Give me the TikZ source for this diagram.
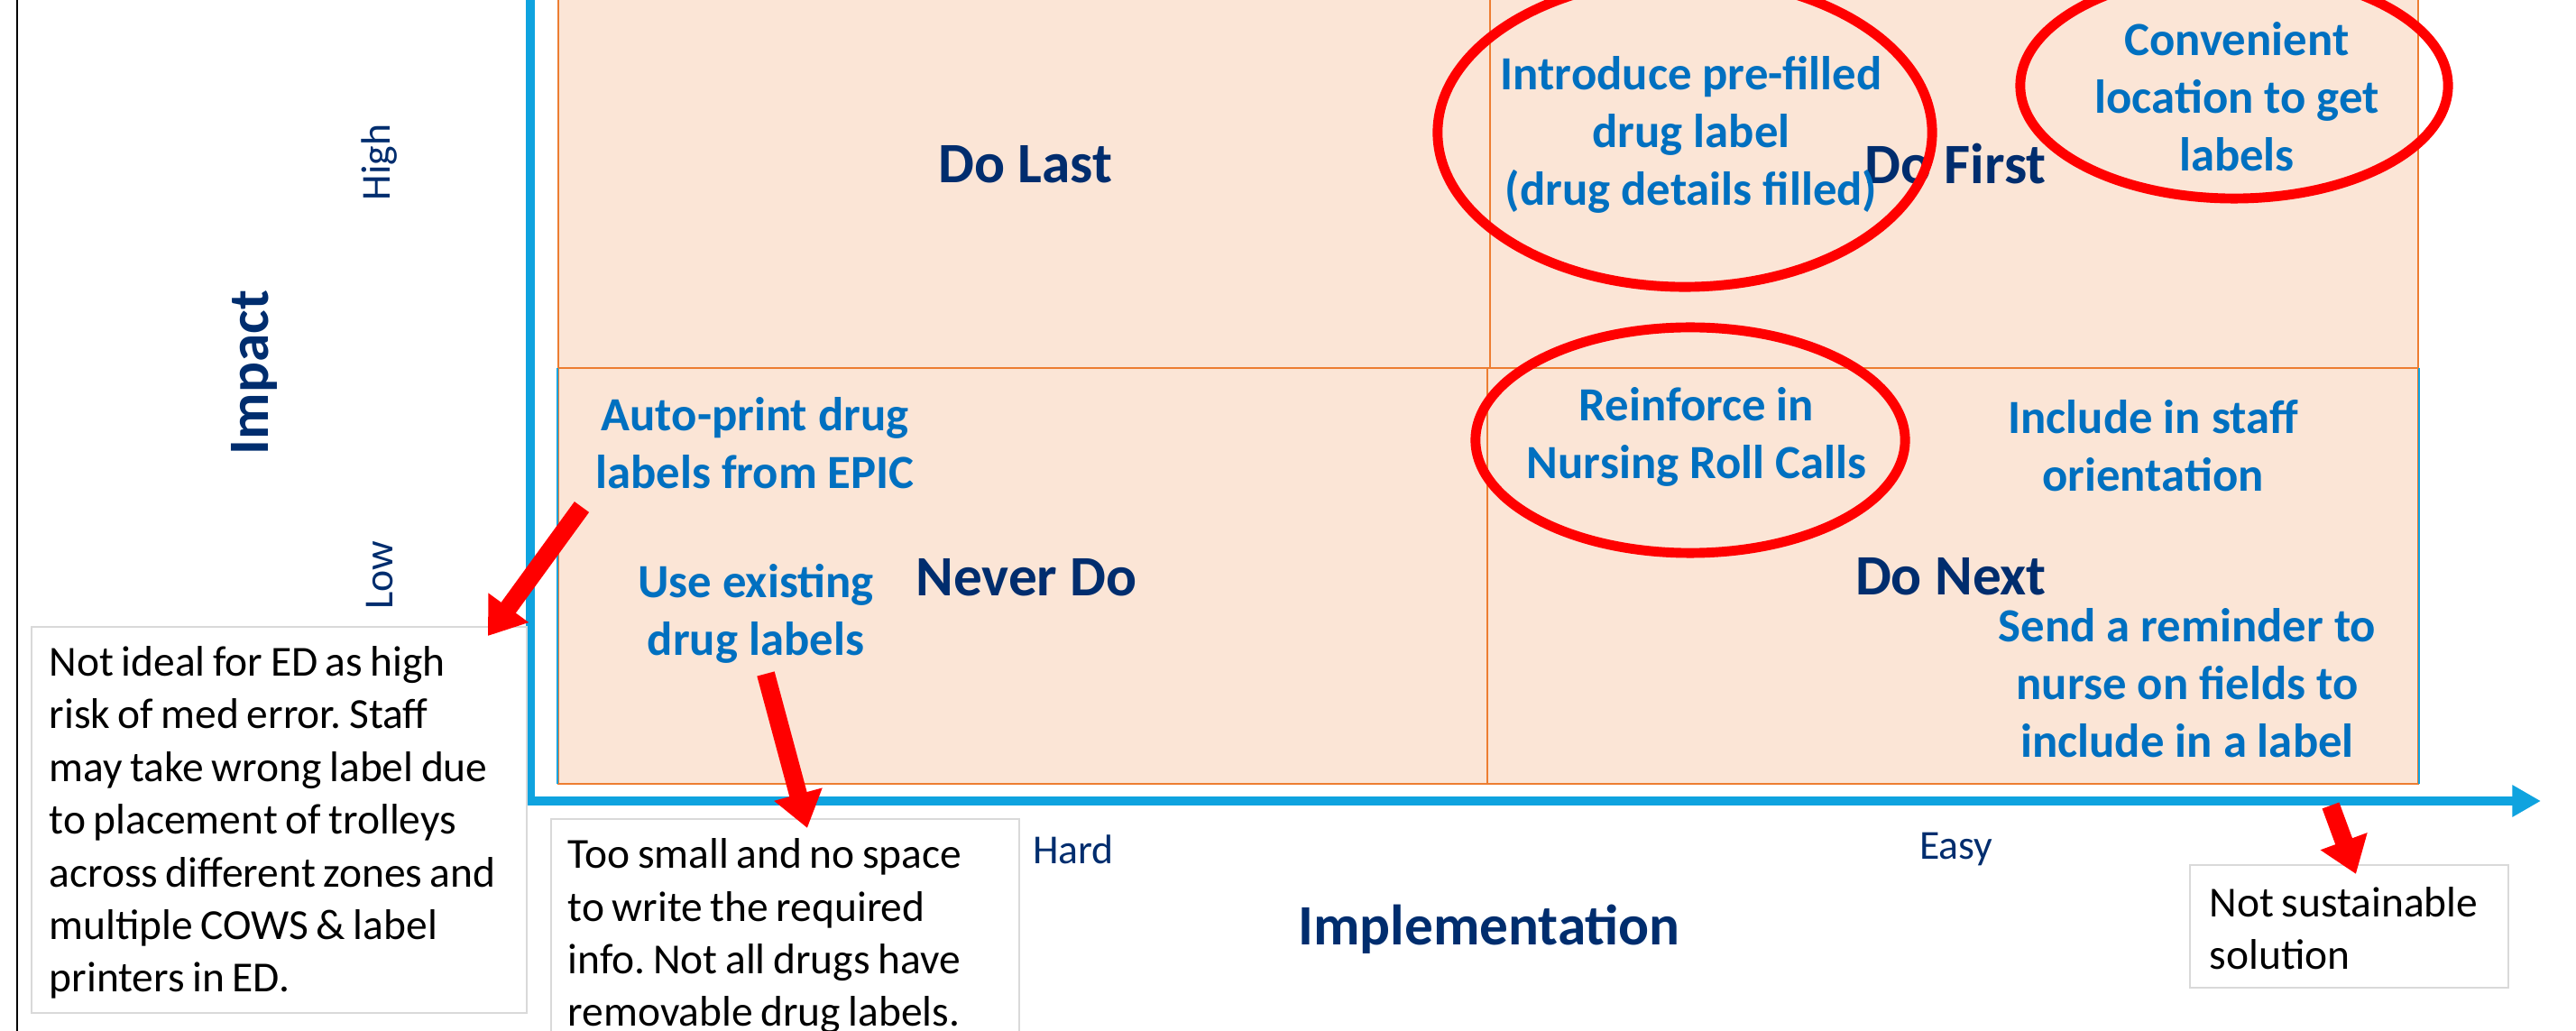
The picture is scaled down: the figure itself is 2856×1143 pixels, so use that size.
\documentclass[tikz,border=0pt]{standalone}
\usepackage{fontspec}
\setmainfont{Carlito}
\usepackage{tikz}
\usetikzlibrary{arrows.meta}
\definecolor{quadfill}{HTML}{FBE5D6}
\definecolor{quadline}{HTML}{ED7D31}
\definecolor{navy}{HTML}{002D6E}
\definecolor{ideablue}{HTML}{0070C0}
\definecolor{axisblue}{HTML}{0FA3DF}
\definecolor{notegray}{HTML}{D9D9D9}
\newcommand{\notefont}{\fontsize{13.5}{16.6}\selectfont\frenchspacing\spaceskip=0.18em plus 0.05em\relax}
\tikzset{>=latex}

\begin{document}
\begin{tikzpicture}[x=0.01cm, y=-0.01cm,
    quad/.style={fill=quadfill, draw=quadline, line width=0.5pt},
    title/.style={text=navy, inner sep=0pt, font=\fontsize{18}{22}\selectfont\bfseries},
    tick/.style={text=navy, inner sep=0pt, font=\fontsize{13}{16}\selectfont},
    idea/.style={text=ideablue, inner sep=0pt, align=center, font=\fontsize{15}{18.2}\selectfont\bfseries},
    notebox/.style={draw=notegray, fill=white, line width=0.6pt, anchor=north west, inner sep=0pt},
    notetext/.style={anchor=west, inner sep=0pt, align=left, font=\notefont},
    ring/.style={draw=red, line width=3.1pt},
    pointer/.style={red, line width=5.7pt, -{Triangle[length=11pt,width=15pt]}},
    axis/.style={axisblue, line width=2.8pt, -{Triangle[length=9pt,width=9.5pt]}}]
      \useasboundingbox (0,0) rectangle (2856,1143);
      \draw[black, line width=0.5pt] (19,0) -- (19,1143);

      % the four quadrants
      \draw[quad] (619,-20) rectangle (1652,408);
      \draw[quad] (1652,-20) rectangle (2681,408);
      \draw[quad] (619,408) rectangle (1649,869);
      \draw[quad] (1649,408) rectangle (2681,869);
      \draw[axisblue, line width=0.7pt] (618,408) -- (618,869);
      \draw[axisblue, line width=0.7pt] (2682,408) -- (2682,869);

      % axes
      \draw[axis] (588,-20) |- (2817,888);

      \node[title, rotate=90] (impact) at (282,413) {Impact};
      \node[tick, rotate=90] (high) at (421,180) {High};
      \node[tick, rotate=90] (low) at (421,638) {Low};
      \node[tick] (hard) at (1190,942) {Hard};
      \node[tick] (easy) at (2169,942) {Easy};
      \node[title] (impl) at (1651,1030) {Implementation};

      \node[title] (dolast) at (1137,182) {Do Last};
      \node[title] (dofirst) at (2168,182) {Do First};
      \node[title] (neverdo) at (1138,640) {Never Do};
      \node[title] (donext) at (2163,639) {Do Next};

      % ideas
      \node[idea] (prefill) at (1875,149) {Introduce pre-filled\\drug label\\(drug details filled)};
      \node[idea] (location) at (2480,107) {Convenient\\location to get\\labels};
      \node[idea] (rollcall) at (1881,484) {Reinforce in\\Nursing Roll Calls};
      \node[idea] (orient) at (2387,494) {Include in staff\\orientation};
      \node[idea] (remind) at (2425,757) {Send a reminder to\\nurse on fields to\\include in a label};
      \node[idea] (autoprint) at (837,491) {Auto-print drug\\labels from EPIC};
      \node[idea] (existing) at (838,680) {Use existing\\drug labels};

      \draw[ring] (1868,147) ellipse [x radius=2.74cm, y radius=1.71cm];
      \draw[ring] (2477,95) ellipse [x radius=2.37cm, y radius=1.25cm];
      \draw[ring] (1874,488) ellipse [x radius=2.38cm, y radius=1.25cm];

      % comments on the ideas
      \node[notebox, minimum width=5.49cm, minimum height=4.28cm] (edbox) at (34,694) {};
      \node[notetext] (edrisk) at (54,912)
        {Not ideal for ED as high\\risk of med error. Staff\\may take wrong label due\\to placement of trolleys\\across different zones and\\multiple COWS \& label\\printers in ED.};
      \node[notebox, minimum width=5.19cm, minimum height=2.6cm] (spacebox) at (610,907) {};
      \node[notetext] (nospace) at (629,1038)
        {Too small and no space\\to write the required\\info. Not all drugs have\\removable drug labels.};
      \node[notebox, minimum width=3.53cm, minimum height=1.36cm] (sustbox) at (2427,958) {};
      \node[notetext] (notsust) at (2449,1029) {Not sustainable\\solution};

      \coordinate (autotail) at (645,562);
      \coordinate (autotip) at (541,705);
      \coordinate (usetail) at (849,747);
      \coordinate (usetip) at (895,918);
      \coordinate (susttail) at (2584,893);
      \coordinate (sustip) at (2612,969);
      \draw[pointer] (autotail) -- (autotip);
      \draw[pointer] (usetail) -- (usetip);
      \draw[pointer] (susttail) -- (sustip);
\end{tikzpicture}
\end{document}
